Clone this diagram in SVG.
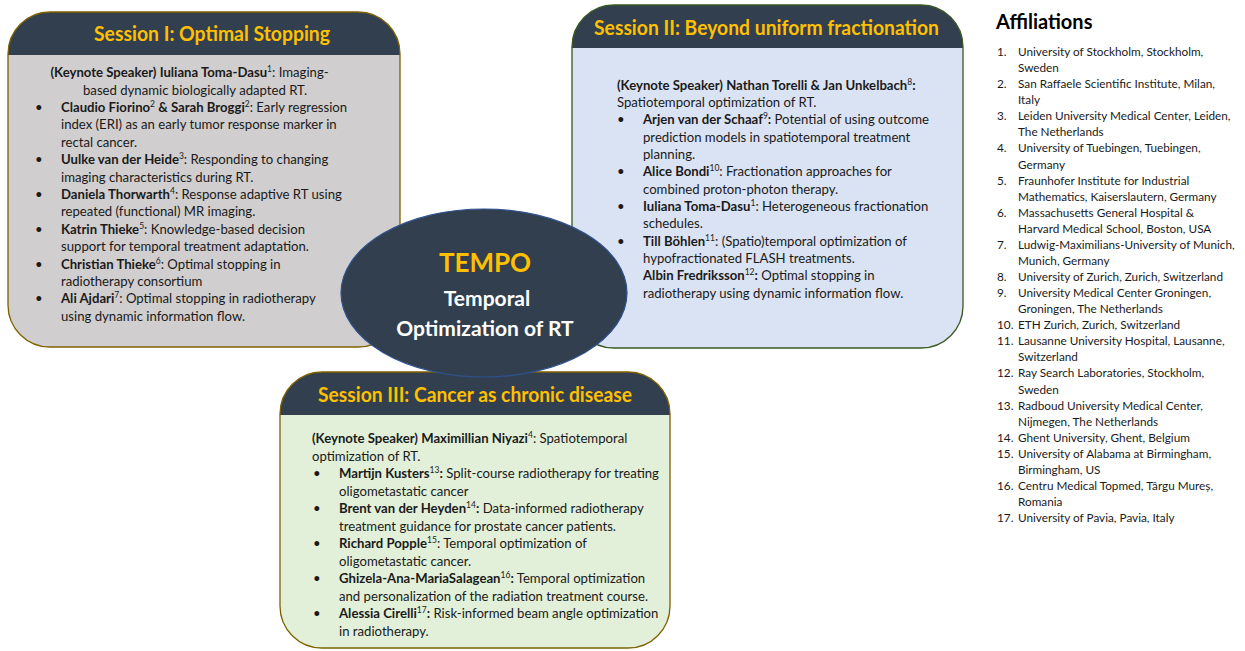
<svg xmlns="http://www.w3.org/2000/svg" width="1245" height="651" viewBox="0 0 1245 651">
<style>
.hdr{fill:#323f4f}
.ttl{font-family:Lato,"Liberation Sans",sans-serif;font-weight:700;font-size:20px;fill:#ffc000}
.t{font-family:Lato,"Liberation Sans",sans-serif;font-size:13.15px;fill:#1a1a1a}
.bd{font-weight:700}
.sup{font-size:8.5px;baseline-shift:super}
.aff{font-family:Lato,"Liberation Sans",sans-serif;font-size:11.75px;fill:#1a1a1a}
.affh{font-family:Lato,"Liberation Sans",sans-serif;font-weight:700;font-size:20px;fill:#000}
.ctr{font-family:Lato,"Liberation Sans",sans-serif;font-weight:700;text-anchor:middle}
</style>
<rect width="1245" height="651" fill="#fff"/>
<g id="session1">
<rect x="8" y="12" width="392" height="335" rx="42" fill="#d0cece"/>
<path class="hdr" d="M8,55 V54 A42,42 0 0 1 50,12 H358 A42,42 0 0 1 400,54 V55 Z"/>
<rect x="8" y="12" width="392" height="335" rx="42" fill="none" stroke="#7f6000" stroke-width="1.3"/>
<text class="ttl" x="94" y="41" textLength="236" lengthAdjust="spacingAndGlyphs">Session I: Optimal Stopping</text>
<g class="t">
<text x="50.5" y="77.3"><tspan class="bd">(Keynote Speaker) Iuliana Toma-Dasu</tspan><tspan class="sup">1</tspan>: Imaging-</text>
<text x="83" y="94.7">based dynamic biologically adapted RT.</text>
<text x="35" y="112">•</text><text x="61" y="112"><tspan class="bd">Claudio Fiorino</tspan><tspan class="sup">2</tspan><tspan class="bd"> &amp; Sarah Broggi</tspan><tspan class="sup">2</tspan>: Early regression</text>
<text x="61" y="129.4">index (ERI) as an early tumor response marker in</text>
<text x="61" y="146.8">rectal cancer.</text>
<text x="35" y="164.2">•</text><text x="61" y="164.2"><tspan class="bd">Uulke van der Heide</tspan><tspan class="sup">3</tspan>: Responding to changing</text>
<text x="61" y="181.6">imaging characteristics during RT.</text>
<text x="35" y="199">•</text><text x="61" y="199"><tspan class="bd">Daniela Thorwarth</tspan><tspan class="sup">4</tspan>: Response adaptive RT using</text>
<text x="61" y="216.4">repeated (functional) MR imaging.</text>
<text x="35" y="233.8">•</text><text x="61" y="233.8"><tspan class="bd">Katrin Thieke</tspan><tspan class="sup">5</tspan>: Knowledge-based decision</text>
<text x="61" y="251.2">support for temporal treatment adaptation.</text>
<text x="35" y="268.6">•</text><text x="61" y="268.6"><tspan class="bd">Christian Thieke</tspan><tspan class="sup">6</tspan>: Optimal stopping in</text>
<text x="61" y="286">radiotherapy consortium</text>
<text x="35" y="303.4">•</text><text x="61" y="303.4"><tspan class="bd">Ali Ajdari</tspan><tspan class="sup">7</tspan>: Optimal stopping in radiotherapy</text>
<text x="61" y="320.8">using dynamic information flow.</text>
</g>
</g>
<g id="session2">
<rect x="572" y="5" width="391" height="343" rx="42" fill="#dae3f3"/>
<path class="hdr" d="M572,48 V47 A42,42 0 0 1 614,5 H921 A42,42 0 0 1 963,47 V48 Z"/>
<rect x="572" y="5" width="391" height="343" rx="42" fill="none" stroke="#385723" stroke-width="1.3"/>
<text class="ttl" x="594" y="35" textLength="345" lengthAdjust="spacingAndGlyphs">Session II: Beyond uniform fractionation</text>
<g class="t">
<text x="617" y="89.5"><tspan class="bd">(Keynote Speaker) Nathan Torelli &amp; Jan Unkelbach</tspan><tspan class="sup">8</tspan><tspan class="bd">:</tspan></text>
<text x="617" y="106.9">Spatiotemporal optimization of RT.</text>
<text x="617" y="124.2">•</text><text x="643" y="124.2"><tspan class="bd">Arjen van der Schaaf</tspan><tspan class="sup">9</tspan><tspan class="bd">:</tspan> Potential of using outcome</text>
<text x="643" y="141.6">prediction models in spatiotemporal treatment</text>
<text x="643" y="158.9">planning.</text>
<text x="617" y="176.3">•</text><text x="643" y="176.3"><tspan class="bd">Alice Bondi</tspan><tspan class="sup">10</tspan>: Fractionation approaches for</text>
<text x="643" y="193.6">combined proton-photon therapy.</text>
<text x="617" y="211">•</text><text x="643" y="211"><tspan class="bd">Iuliana Toma-Dasu</tspan><tspan class="sup">1</tspan>: Heterogeneous fractionation</text>
<text x="643" y="228.3">schedules.</text>
<text x="617" y="245.7">•</text><text x="643" y="245.7"><tspan class="bd">Till Böhlen</tspan><tspan class="sup">11</tspan>: (Spatio)temporal optimization of</text>
<text x="643" y="263">hypofractionated FLASH treatments.</text>
<text x="643" y="280.4"><tspan class="bd">Albin Fredriksson</tspan><tspan class="sup">12</tspan><tspan class="bd">:</tspan> Optimal stopping in</text>
<text x="643" y="297.7">radiotherapy using dynamic information flow.</text>
</g>
</g>
<g id="session3">
<rect x="280" y="372" width="390" height="276" rx="42" fill="#e2f0d9"/>
<path class="hdr" d="M280,415 V414 A42,42 0 0 1 322,372 H628 A42,42 0 0 1 670,414 V415 Z"/>
<rect x="280" y="372" width="390" height="276" rx="42" fill="none" stroke="#7f6000" stroke-width="1.3"/>
<text class="ttl" x="318" y="402" textLength="314" lengthAdjust="spacingAndGlyphs">Session III: Cancer as chronic disease</text>
<g class="t">
<text x="312" y="443"><tspan class="bd">(Keynote Speaker) Maximillian Niyazi</tspan><tspan class="sup">4</tspan>: Spatiotemporal</text>
<text x="312" y="460.5">optimization of RT.</text>
<text x="313" y="478">•</text><text x="339" y="478"><tspan class="bd">Martijn Kusters</tspan><tspan class="sup">13</tspan><tspan class="bd">:</tspan> Split-course radiotherapy for treating</text>
<text x="339" y="495.5">oligometastatic cancer</text>
<text x="313" y="513">•</text><text x="339" y="513"><tspan class="bd">Brent van der Heyden</tspan><tspan class="sup">14</tspan><tspan class="bd">:</tspan> Data-informed radiotherapy</text>
<text x="339" y="530.5">treatment guidance for prostate cancer patients.</text>
<text x="313" y="548">•</text><text x="339" y="548"><tspan class="bd">Richard Popple</tspan><tspan class="sup">15</tspan>: Temporal optimization of</text>
<text x="339" y="565.5">oligometastatic cancer.</text>
<text x="313" y="583">•</text><text x="339" y="583"><tspan class="bd">Ghizela-Ana-MariaSalagean</tspan><tspan class="sup">16</tspan><tspan class="bd">:</tspan> Temporal optimization</text>
<text x="339" y="600.5">and personalization of the radiation treatment course.</text>
<text x="313" y="618">•</text><text x="339" y="618"><tspan class="bd">Alessia Cirelli</tspan><tspan class="sup">17</tspan><tspan class="bd">:</tspan> Risk-informed beam angle optimization</text>
<text x="339" y="635.5">in radiotherapy.</text>
</g>
</g>
<g id="tempo">
<ellipse cx="484" cy="293" rx="143" ry="84" fill="#323f4f" stroke="#2f528f" stroke-width="1.2"/>
<text class="ctr" x="485" y="272" font-size="26" fill="#ffc000">TEMPO</text>
<text class="ctr" x="487" y="306" font-size="21" fill="#fff">Temporal</text>
<text class="ctr" x="485" y="336" font-size="21" fill="#fff">Optimization of RT</text>
</g>
<g id="affiliations">
<text class="affh" x="996" y="29">Affiliations</text>
<g class="aff">
<text x="997" y="56">1.</text><text x="1018" y="56">University of Stockholm, Stockholm,</text>
<text x="1018" y="72.1">Sweden</text>
<text x="997" y="88.1">2.</text><text x="1018" y="88.1">San Raffaele Scientific Institute, Milan,</text>
<text x="1018" y="104.2">Italy</text>
<text x="997" y="120.3">3.</text><text x="1018" y="120.3">Leiden University Medical Center, Leiden,</text>
<text x="1018" y="136.4">The Netherlands</text>
<text x="997" y="152.4">4.</text><text x="1018" y="152.4">University of Tuebingen, Tuebingen,</text>
<text x="1018" y="168.5">Germany</text>
<text x="997" y="184.6">5.</text><text x="1018" y="184.6">Fraunhofer Institute for Industrial</text>
<text x="1018" y="200.6">Mathematics, Kaiserslautern, Germany</text>
<text x="997" y="216.7">6.</text><text x="1018" y="216.7">Massachusetts General Hospital &amp;</text>
<text x="1018" y="232.8">Harvard Medical School, Boston, USA</text>
<text x="997" y="248.8">7.</text><text x="1018" y="248.8">Ludwig-Maximilians-University of Munich,</text>
<text x="1018" y="264.9">Munich, Germany</text>
<text x="997" y="281">8.</text><text x="1018" y="281">University of Zurich, Zurich, Switzerland</text>
<text x="997" y="297.1">9.</text><text x="1018" y="297.1">University Medical Center Groningen,</text>
<text x="1018" y="313.1">Groningen, The Netherlands</text>
<text x="997" y="329.2">10.</text><text x="1018" y="329.2">ETH Zurich, Zurich, Switzerland</text>
<text x="997" y="345.3">11.</text><text x="1018" y="345.3">Lausanne University Hospital, Lausanne,</text>
<text x="1018" y="361.3">Switzerland</text>
<text x="997" y="377.4">12.</text><text x="1018" y="377.4">Ray Search Laboratories, Stockholm,</text>
<text x="1018" y="393.5">Sweden</text>
<text x="997" y="409.6">13.</text><text x="1018" y="409.6">Radboud University Medical Center,</text>
<text x="1018" y="425.6">Nijmegen, The Netherlands</text>
<text x="997" y="441.7">14.</text><text x="1018" y="441.7">Ghent University, Ghent, Belgium</text>
<text x="997" y="457.8">15.</text><text x="1018" y="457.8">University of Alabama at Birmingham,</text>
<text x="1018" y="473.8">Birmingham, US</text>
<text x="997" y="489.9">16.</text><text x="1018" y="489.9">Centru Medical Topmed, Târgu Mureș,</text>
<text x="1018" y="506">Romania</text>
<text x="997" y="522">17.</text><text x="1018" y="522">University of Pavia, Pavia, Italy</text>
</g>
</g>
</svg>
